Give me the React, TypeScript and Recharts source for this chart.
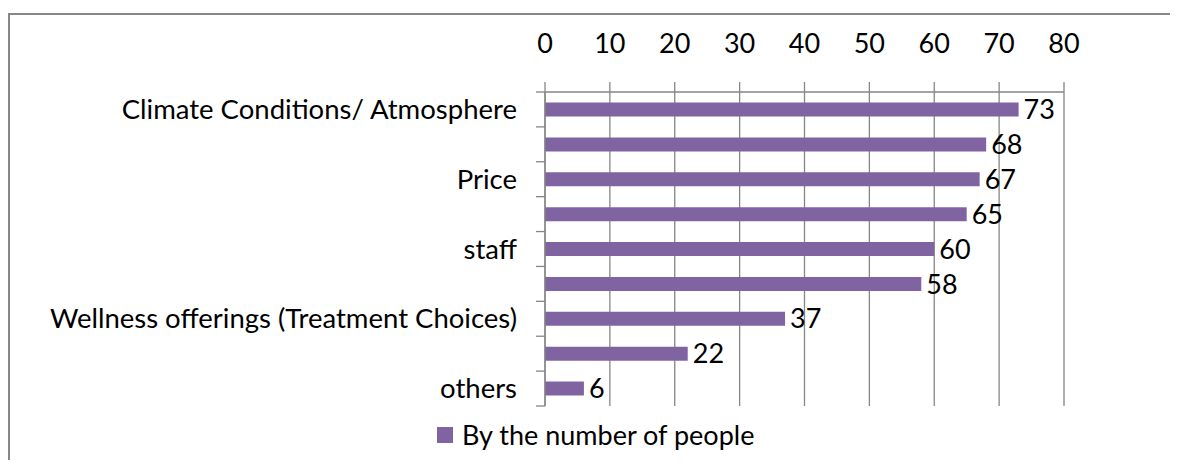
import React from 'react';
import { BarChart, Bar, XAxis, YAxis, CartesianGrid, Legend, LabelList } from 'recharts';

// only every other category carries a visible label in the original
const categories = [
    'Climate Conditions/ Atmosphere',
    '',
    'Price',
    '',
    'staff',
    '',
    'Wellness offerings (Treatment Choices)',
    '',
    'others',
];
const people = [73, 68, 67, 65, 60, 58, 37, 22, 6];
const xTicks = [0, 10, 20, 30, 40, 50, 60, 70, 80];
const seriesName = 'By the number of people';

const data = categories.map((name, i) => ({ id: 'c' + i, name, value: people[i] }));

const W = 1178;
const H = 468;
const AXIS_X = 545;
const TOP = 92;
const BOTTOM_MARGIN = 62;
const BAND = (H - TOP - BOTTOM_MARGIN) / categories.length;
const FONT = 'Lato, sans-serif';
const FS = 27;
const GRID = '#868686';
const PURPLE = '#8064A2';

function CategoryTick(props: any) {
    const { y, index } = props;
    const top = y - BAND / 2;
    return (
        <g>
            <line x1={AXIS_X - 9} x2={AXIS_X} y1={top} y2={top} stroke={GRID} strokeWidth={1.3} />
            {index === categories.length - 1 && (
                <line x1={AXIS_X - 9} x2={AXIS_X} y1={top + BAND} y2={top + BAND} stroke={GRID} strokeWidth={1.3} />
            )}
            <text x={AXIS_X - 28} y={y} dy="0.35em" textAnchor="end" fill="#000" fontSize={FS + 0.5} fontFamily={FONT}>
                {categories[index]}
            </text>
        </g>
    );
}

function LegendBox() {
    return (
        <div style={{ display: 'flex', alignItems: 'center', fontFamily: FONT, fontSize: FS, color: '#000', whiteSpace: 'nowrap' }}>
            <span style={{ width: 16, height: 16, background: PURPLE, display: 'inline-block', marginRight: 9 }} />
            <span>{seriesName}</span>
        </div>
    );
}

export default function App() {
    return (
        <div style={{ position: 'relative', width: W - 16, height: H - 16 }}>
            <div
                style={{
                    position: 'absolute',
                    left: 0,
                    top: 5,
                    width: 1161,
                    height: 470,
                    border: '2px solid #878787',
                }}
            />
            <div style={{ position: 'absolute', left: -8, top: -8 }}>
                <BarChart
                    width={W}
                    height={H}
                    data={data}
                    layout="vertical"
                    margin={{ top: 0, right: W - 1064, bottom: BOTTOM_MARGIN, left: 0 }}
                    barCategoryGap={10.5}
                >
                    <CartesianGrid horizontal={false} stroke={GRID} strokeWidth={1.3} />
                    <XAxis
                        type="number"
                        orientation="top"
                        domain={[0, 80]}
                        ticks={xTicks}
                        height={TOP}
                        tickSize={10}
                        tickMargin={29}
                        axisLine={{ stroke: GRID, strokeWidth: 1.3 }}
                        tickLine={{ stroke: GRID, strokeWidth: 1.3 }}
                        tick={{ fill: '#000', fontSize: FS, fontFamily: FONT }}
                    />
                    <YAxis
                        type="category"
                        dataKey="id"
                        width={AXIS_X}
                        axisLine={{ stroke: GRID, strokeWidth: 1.3 }}
                        tickLine={false}
                        tick={<CategoryTick />}
                        interval={0}
                    />
                    <Legend
                        content={<LegendBox />}
                        wrapperStyle={{ position: 'absolute', left: 437, top: 418, width: 'auto', height: 0, overflow: 'visible' }}
                    />
                    <Bar dataKey="value" name={seriesName} fill={PURPLE} isAnimationActive={false}>
                        <LabelList
                            dataKey="value"
                            position="right"
                            offset={5}
                            fill="#000"
                            fontSize={FS}
                            fontFamily={FONT}
                        />
                    </Bar>
                </BarChart>
            </div>
        </div>
    );
}
